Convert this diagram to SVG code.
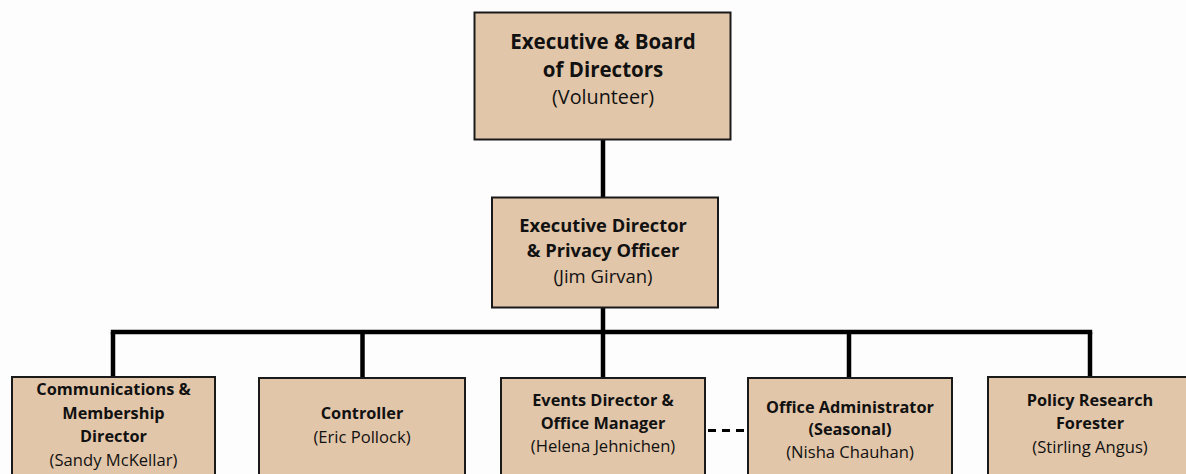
<svg xmlns="http://www.w3.org/2000/svg" width="1186" height="474" viewBox="0 0 1186 474">
<style>
.box{fill:#E2C6A9;stroke:#1a1a1a;stroke-width:2}
.ln{stroke:#000;stroke-width:4.5;fill:none}
.dash{stroke:#000;stroke-width:3;fill:none;stroke-dasharray:8 6}
text{font-family:"Open Sans","Noto Sans",sans-serif;text-anchor:middle;fill:#111}
.b20{font-weight:700;font-size:20.5px}
.r20{font-size:19.8px}
.b18{font-weight:700;font-size:18.3px}
.r18{font-size:18.5px}
.b16{font-weight:700;font-size:16.3px}
.r16{font-size:16.6px}
</style>
<rect width="1186" height="474" fill="#fdfdfd"/>
<g id="connectors">
<line class="ln" x1="603" y1="140" x2="603" y2="198"/>
<line class="ln" x1="603" y1="307" x2="603" y2="378"/>
<line class="ln" x1="110.8" y1="332" x2="1092.2" y2="332"/>
<line class="ln" x1="113" y1="332" x2="113" y2="377"/>
<line class="ln" x1="362.5" y1="332" x2="362.5" y2="378"/>
<line class="ln" x1="849" y1="332" x2="849" y2="378"/>
<line class="ln" x1="1090" y1="332" x2="1090" y2="377"/>
<line class="dash" x1="708" y1="430.5" x2="744" y2="430.5"/>
</g>
<g id="board">
<rect class="box" x="474.5" y="12.5" width="256" height="127"/>
<text class="b20" x="603" y="49.3">Executive &amp; Board</text>
<text class="b20" x="603" y="77">of Directors</text>
<text class="r20" x="603" y="104.3">(Volunteer)</text>
</g>
<g id="exec-director">
<rect class="box" x="492" y="197.5" width="226" height="110"/>
<text class="b18" x="603" y="231.5">Executive Director</text>
<text class="b18" x="603" y="257.3">&amp; Privacy Officer</text>
<text class="r18" x="603" y="283">(Jim Girvan)</text>
</g>
<g id="communications">
<rect class="box" x="12" y="377" width="203" height="110"/>
<text class="b16" x="113.5" y="395">Communications &amp;</text>
<text class="b16" x="113.5" y="418.8">Membership</text>
<text class="b16" x="113.5" y="442.3">Director</text>
<text class="r16" x="113.5" y="465.7">(Sandy McKellar)</text>
</g>
<g id="controller">
<rect class="box" x="259" y="378" width="206" height="110"/>
<text class="b16" x="362" y="419.3">Controller</text>
<text class="r16" x="362" y="442.7">(Eric Pollock)</text>
</g>
<g id="events">
<rect class="box" x="501" y="378" width="204" height="110"/>
<text class="b16" x="603" y="406">Events Director &amp;</text>
<text class="b16" x="603" y="428.8">Office Manager</text>
<text class="r16" x="603" y="451.5">(Helena Jehnichen)</text>
</g>
<g id="office-admin">
<rect class="box" x="748" y="378" width="204" height="110"/>
<text class="b16" x="850" y="412.5">Office Administrator</text>
<text class="b16" x="850" y="434.5">(Seasonal)</text>
<text class="r16" x="850" y="457.9">(Nisha Chauhan)</text>
</g>
<g id="policy">
<rect class="box" x="988" y="377" width="204" height="110"/>
<text class="b16" x="1090" y="406">Policy Research</text>
<text class="b16" x="1090" y="429.2">Forester</text>
<text class="r16" x="1090" y="452.8">(Stirling Angus)</text>
</g>
</svg>
